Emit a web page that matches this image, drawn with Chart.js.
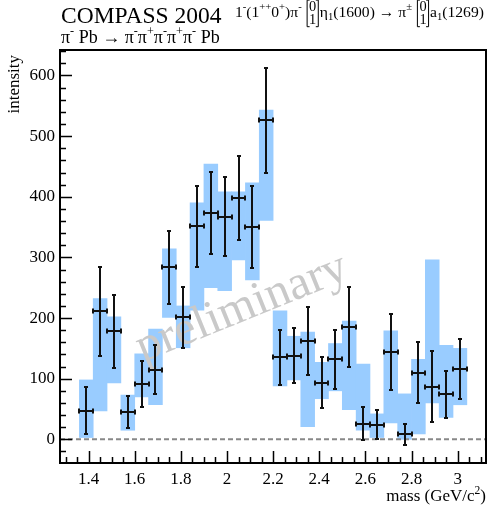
<!DOCTYPE html>
<html lang="en">
<head>
  <meta charset="UTF-8">
  <title>COMPASS 2004 - intensity vs mass</title>
  <script src="https://cdn.jsdelivr.net/npm/chart.js"></script>
  <style>
    body { margin: 0; background: #fff; }
    canvas { display: block; }
  </style>
</head>
<body>
  <canvas id="massChart" width="490" height="506"></canvas>

  <script>
    // bin centres (GeV/c^2) and fitted intensities
    const masses = [1.39, 1.45, 1.51, 1.57, 1.63, 1.69, 1.75, 1.81, 1.87, 1.93, 1.99, 2.05, 2.11, 2.17,
                    2.23, 2.29, 2.35, 2.41, 2.47, 2.53, 2.59, 2.65, 2.71, 2.77, 2.83, 2.89, 2.95, 3.01];
    const intensity = [47, 211, 178, 45, 91, 115, 284, 201, 351, 373, 367, 398, 350, 526,
                       135, 138, 162, 93, 132, 186, 26, 24, 144, 8, 110, 87, 74, 116];
    const statErr = [39, 74, 60, 26, 38, 41, 60, 51, 67, 68, 65, 69, 67, 87,
                     45, 45, 56, 42, 49, 66, 27, 24, 62, 17, 50, 58, 38, 50];
    // systematic band
    const sysLow = [3, 47, 93, 15, 70, 57, 201, 151, 213, 250, 245, 296, 263, 361,
                    88, 98, 21, 67, 80, 49, 15, 3, 27, 0, 9, 60, 36, 57];
    const sysHigh = [98, 232, 202, 73, 141, 182, 314, 220, 390, 454, 408, 408, 423, 543,
                     212, 170, 177, 127, 158, 195, 124, 42, 179, 75, 132, 296, 155, 150];
    const binHalf = 0.03;

    const xTicks = [1.4, 1.6, 1.8, 2, 2.2, 2.4, 2.6, 2.8, 3];
    const yTicks = [0, 100, 200, 300, 400, 500, 600];

    const SERIF = '"Liberation Serif", "Times New Roman", serif';

    // text with super/subscripts and little [0 1] column vectors
    function richText(ctx, parts, x, y, size, measureOnly) {
      const x0 = x;
      for (const [txt, mode] of parts) {
        if (mode === 'm') {
          const [a, b] = txt.split('/');
          ctx.font = (size * 0.92) + 'px ' + SERIF;
          const w = Math.max(ctx.measureText(a).width, ctx.measureText(b).width);
          const rx = x + 4 + w + 1.5;
          if (!measureOnly) {
            const top = y - size * 1.08, bot = y + size * 0.62;
            ctx.lineWidth = 1;
            ctx.beginPath();
            ctx.moveTo(x + 4, top); ctx.lineTo(x + 1.5, top); ctx.lineTo(x + 1.5, bot); ctx.lineTo(x + 4, bot);
            ctx.moveTo(rx - 2.5, top); ctx.lineTo(rx, top); ctx.lineTo(rx, bot); ctx.lineTo(rx - 2.5, bot);
            ctx.stroke();
            ctx.fillText(a, x + 3.5, y - size * 0.38);
            ctx.fillText(b, x + 3.5, y + size * 0.45);
          }
          x = rx + 1.5;
          continue;
        }
        const s = mode ? size * 0.68 : size;
        ctx.font = s + 'px ' + SERIF;
        const dy = mode === 1 ? -size * 0.42 : mode === -1 ? size * 0.22 : 0;
        if (!measureOnly) ctx.fillText(txt, x, y + dy);
        x += ctx.measureText(txt).width;
      }
      return x - x0;
    }

    const decorations = {
      id: 'decorations',
      afterDatasetDraw(chart, args) {
        if (args.index !== 0) return;
        // watermark sits between the band and the error bars
        const ctx = chart.ctx;
        ctx.save();
        ctx.translate(143, 362);
        ctx.rotate(-22 * Math.PI / 180);
        ctx.fillStyle = '#c9c9c9';
        ctx.font = '48px ' + SERIF;
        ctx.textBaseline = 'alphabetic';
        ctx.fillText('preliminary', 0, 0);
        ctx.restore();
      },
      afterDatasetsDraw(chart) {
        const ctx = chart.ctx;
        const xs = chart.scales.x, ys = chart.scales.y;
        ctx.save();
        ctx.strokeStyle = '#111';
        ctx.lineWidth = 2;
        masses.forEach((m, i) => {
          const px = Math.round(xs.getPixelForValue(m));
          const py = Math.round(ys.getPixelForValue(intensity[i]));
          const top = Math.round(ys.getPixelForValue(intensity[i] + statErr[i]));
          const bot = Math.round(ys.getPixelForValue(intensity[i] - statErr[i]));
          const l = Math.round(xs.getPixelForValue(m - binHalf));
          const r = Math.round(xs.getPixelForValue(m + binHalf));
          ctx.beginPath();
          ctx.moveTo(px, top); ctx.lineTo(px, bot);
          ctx.moveTo(px - 2, top); ctx.lineTo(px + 2, top);
          ctx.moveTo(px - 2, bot); ctx.lineTo(px + 2, bot);
          ctx.moveTo(l, py); ctx.lineTo(r, py);
          ctx.moveTo(l, py - 2.5); ctx.lineTo(l, py + 2.5);
          ctx.moveTo(r, py - 2.5); ctx.lineTo(r, py + 2.5);
          ctx.stroke();
        });
        ctx.restore();
      },
      afterDraw(chart) {
        const ctx = chart.ctx;
        const a = chart.chartArea;
        const xs = chart.scales.x, ys = chart.scales.y;
        ctx.save();
        // frame
        ctx.strokeStyle = '#000';
        ctx.lineWidth = 2;
        ctx.strokeRect(a.left, a.top, a.right - a.left, a.bottom - a.top);
        // inward ticks
        ctx.lineWidth = 1.5;
        ctx.beginPath();
        for (let v = -20; v <= 640; v += 20) {
          const py = Math.round(ys.getPixelForValue(v)) + 0.5;
          const len = v % 100 === 0 ? 12 : 6;
          ctx.moveTo(a.left, py); ctx.lineTo(a.left + len, py);
        }
        for (let k = 26; k <= 62; k++) {
          const px = Math.round(xs.getPixelForValue(k * 0.05)) + 0.5;
          const len = k % 4 === 0 ? 12 : 6;
          ctx.moveTo(px, a.bottom); ctx.lineTo(px, a.bottom - len);
        }
        ctx.stroke();

        // texts
        ctx.fillStyle = '#000';
        ctx.strokeStyle = '#000';
        ctx.textBaseline = 'alphabetic';
        ctx.textAlign = 'left';
        ctx.font = '23.5px ' + SERIF;
        ctx.fillText('COMPASS 2004', 61, 23);
        richText(ctx, [['\u03c0', 0], ['-', 1], [' Pb \u2192 \u03c0', 0], ['-', 1], ['\u03c0', 0], ['+', 1],
                       ['\u03c0', 0], ['-', 1], ['\u03c0', 0], ['+', 1], ['\u03c0', 0], ['-', 1], [' Pb', 0]],
                 61, 43, 18);
        const wave = [['1', 0], ['-', 1], ['(1', 0], ['++', 1], ['0', 0], ['+', 1], [')\u03c0', 0], ['-', 1],
                      [' ', 0], ['0/1', 'm'], ['\u03b7', 0], ['1', -1], ['(1600) \u2192 \u03c0', 0], ['\u00b1', 1],
                      [' ', 0], ['0/1', 'm'], ['a', 0], ['1', -1], ['(1269)', 0]];
        const waveSize = 13 * 252 / richText(ctx, wave, 0, 0, 13, true);
        richText(ctx, wave, 235, 17, waveSize);

        // axis titles, right-adjusted at the axis ends
        ctx.font = '11.5px ' + SERIF;
        const supW = ctx.measureText('2').width;
        ctx.font = '17px ' + SERIF;
        const w1 = ctx.measureText('mass (GeV/c').width;
        const w2 = ctx.measureText(')').width;
        richText(ctx, [['mass (GeV/c', 0], ['2', 1], [')', 0]], a.right - w1 - supW - w2, 501, 17);

        ctx.translate(19, 50);
        ctx.rotate(-Math.PI / 2);
        ctx.font = '17px ' + SERIF;
        ctx.textAlign = 'right';
        ctx.fillText('intensity', -5, 0);
        ctx.restore();
      }
    };

    const ctx = document.getElementById('massChart').getContext('2d');
    new Chart(ctx, {
      data: {
        datasets: [
          {
            type: 'bar',
            label: 'systematics',
            data: masses.map((m, i) => ({ x: m, y: [sysLow[i], sysHigh[i]] })),
            backgroundColor: 'rgb(153, 204, 255)',
            borderWidth: 0,
            barPercentage: 1,
            categoryPercentage: 1,
            order: 3
          },
          {
            type: 'line',
            label: 'zero',
            data: [{ x: 1.276, y: 0 }, { x: 3.123, y: 0 }],
            borderColor: '#888',
            borderWidth: 2,
            borderDash: [5, 3],
            pointRadius: 0,
            order: 2
          },
          {
            type: 'scatter',
            label: 'intensity',
            data: masses.map((m, i) => ({ x: m, y: intensity[i] })),
            pointRadius: 0,
            order: 1
          }
        ]
      },
      options: {
        responsive: false,
        animation: false,
        devicePixelRatio: 1,
        layout: { padding: { left: 0, right: 4, top: 50, bottom: 0 } },
        plugins: { legend: { display: false }, tooltip: { enabled: false } },
        scales: {
          x: {
            type: 'linear',
            min: 1.276,
            max: 3.123,
            offset: false,
            grid: { display: false, drawTicks: false },
            border: { display: false },
            afterBuildTicks: s => { s.ticks = xTicks.map(v => ({ value: v })); },
            afterFit: s => { s.height = 43; },
            ticks: {
              autoSkip: false,
              maxRotation: 0,
              padding: 6,
              color: '#000',
              font: { family: SERIF, size: 17 },
              callback: v => String(+v.toFixed(1))
            }
          },
          y: {
            min: -39,
            max: 642,
            grid: { display: false, drawTicks: false },
            border: { display: false },
            afterBuildTicks: s => { s.ticks = yTicks.map(v => ({ value: v })); },
            afterFit: s => { s.width = 60; },
            ticks: {
              padding: 5,
              color: '#000',
              font: { family: SERIF, size: 17 }
            }
          }
        }
      },
      plugins: [decorations]
    });
  </script>
</body>
</html>
